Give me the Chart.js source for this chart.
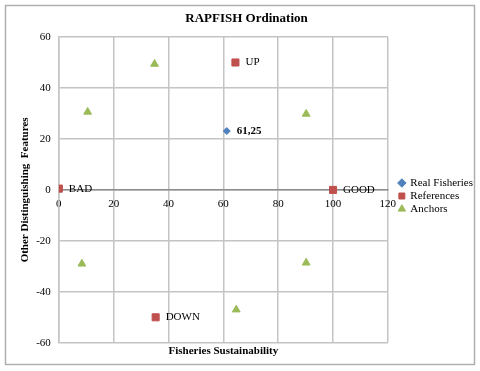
<!DOCTYPE html>
<html>
<head>
<meta charset="utf-8">
<script src="https://cdn.jsdelivr.net/npm/chart.js@4"></script>
<style>
  html, body { margin: 0; padding: 0; background: #fff; }
  #wrap { width: 480px; height: 371px; position: relative; }
</style>
</head>
<body>
<div id="wrap"><canvas id="rapfishChart" width="480" height="371"></canvas></div>
<script>
// Data
const realX = [61.25];
const realY = [23.1];
const realLabels = ['61,25'];

const refX = [64.4, 0, 100, 35.3];
const refY = [50, 0.5, 0, -50];
const refLabels = ['UP', 'BAD', 'GOOD', 'DOWN'];

const anchorX = [34.9, 10.5, 90.2, 8.4, 90.2, 64.7];
const anchorY = [49.4, 30.6, 29.8, -29, -28.6, -47];

const xTicks = [0, 20, 40, 60, 80, 100, 120];
const yTicks = [-60, -40, -20, 0, 20, 40, 60];

const serif = '"Liberation Serif", "Times New Roman", serif';
const gridColor = '#c4c4c4';

function toPoints(xs, ys) {
  return xs.map((x, i) => ({ x: x, y: ys[i] }));
}

// white page + outer frame
const framePlugin = {
  id: 'frame',
  beforeDraw(chart) {
    const ctx = chart.ctx;
    ctx.save();
    ctx.fillStyle = '#fff';
    ctx.fillRect(0, 0, chart.width, chart.height);
    ctx.strokeStyle = '#b0b0b0';
    ctx.lineWidth = 1.5;
    ctx.strokeRect(5.5, 5.5, 469, 359);
    ctx.restore();
  }
};

// nudge the legend box a little right and down, like the original
const legendNudge = {
  id: 'legendNudge',
  afterLayout(chart) {
    const lg = chart.legend;
    if (!lg) return;
    lg.left += 9; lg.right += 9;
    lg.top += 13; lg.bottom += 13;
  }
};

// text next to points
const pointLabels = {
  id: 'pointLabels',
  afterDatasetsDraw(chart) {
    const ctx = chart.ctx;
    ctx.save();
    ctx.textBaseline = 'middle';
    ctx.textAlign = 'left';
    chart.data.datasets.forEach((ds, di) => {
      if (!ds.pointText) return;
      const meta = chart.getDatasetMeta(di);
      ctx.font = (ds.pointTextBold ? 'bold ' : '') + '11px ' + serif;
      ctx.fillStyle = '#000';
      meta.data.forEach((el, i) => {
        ctx.fillText(ds.pointText[i], el.x + 10, el.y);
      });
    });
    ctx.restore();
  }
};

new Chart(document.getElementById('rapfishChart'), {
  type: 'scatter',
  data: {
    datasets: [
      {
        label: 'Real Fisheries',
        data: toPoints(realX, realY),
        pointStyle: 'rectRot',
        pointRadius: 3.5,
        backgroundColor: '#4f81bd',
        borderColor: '#4f81bd',
        pointText: realLabels,
        pointTextBold: true,
      },
      {
        label: 'References',
        data: toPoints(refX, refY),
        pointStyle: 'rect',
        pointRadius: 5,
        backgroundColor: '#c0504d',
        borderColor: '#c0504d',
        pointText: refLabels,
      },
      {
        label: 'Anchors',
        data: toPoints(anchorX, anchorY),
        pointStyle: 'triangle',
        pointRadius: 4.5,
        backgroundColor: '#9bbb59',
        borderColor: '#9bbb59',
      },
    ],
  },
  options: {
    responsive: false,
    animation: false,
    devicePixelRatio: 1,
    layout: { padding: { top: 8, right: 6, bottom: 13, left: 19 } },
    plugins: {
      title: {
        display: true,
        text: 'RAPFISH Ordination',
        color: '#000',
        font: { family: serif, size: 13, weight: 'bold' },
        padding: { top: 3, bottom: 10.4 },
      },
      legend: {
        position: 'right',
        labels: {
          usePointStyle: true,
          boxWidth: 6,
          boxHeight: 6,
          padding: 2,
          color: '#000',
          font: { family: serif, size: 11 },
        },
      },
      tooltip: { enabled: false },
    },
    scales: {
      x: {
        type: 'linear',
        position: { y: 0 },
        min: 0,
        max: 120,
        afterBuildTicks(axis) { axis.ticks = xTicks.map(v => ({ value: v })); },
        grid: { color: gridColor, lineWidth: 1.5, drawTicks: false },
        border: { color: '#8c8c8c', width: 1.5 },
        ticks: { color: '#000', padding: 8, font: { family: serif, size: 11 } },
      },
      x2: {
        type: 'linear',
        position: 'bottom',
        min: 0,
        max: 120,
        grid: { display: false, drawTicks: false },
        border: { display: false },
        ticks: { display: false },
        title: {
          display: true,
          text: 'Fisheries Sustainability',
          color: '#000',
          font: { family: serif, size: 11, weight: 'bold' },
          padding: { top: 2, bottom: 0 },
        },
      },
      y: {
        type: 'linear',
        min: -60,
        max: 60,
        afterBuildTicks(axis) { axis.ticks = yTicks.map(v => ({ value: v })); },
        grid: { color: gridColor, lineWidth: 1.5, drawTicks: false },
        border: { color: gridColor, width: 1.5 },
        ticks: { color: '#000', padding: 8, font: { family: serif, size: 11 } },
        title: {
          display: true,
          text: 'Other Distinguishing  Features',
          color: '#000',
          font: { family: serif, size: 11, weight: 'bold' },
          padding: { top: 0, bottom: -4 },
        },
      },
    },
  },
  plugins: [framePlugin, legendNudge, pointLabels],
});
</script>
</body>
</html>
